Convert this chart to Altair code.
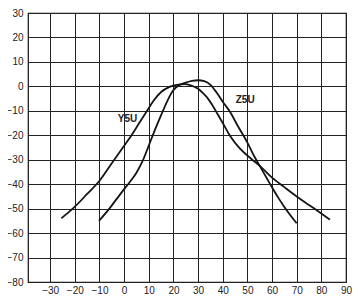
import altair as alt
import pandas as pd

# Curve Y5U (wide curve)
y5u_x = [-25.5, -22, -20, -15, -10, -5, 0, 3, 6, 9.3, 12, 15, 18, 20, 22, 24.5, 27, 30, 32, 34, 36, 38, 40, 43, 47, 51.5, 55, 60, 65, 70, 75, 80, 83.5]
y5u_y = [-54, -51, -49.2, -44, -38.6, -31.4, -24.3, -20, -15.2, -10, -5.8, -2.3, -0.4, 0.3, 0.7, 0.9, 0.4, -1, -2.8, -5, -8, -11.5, -15, -20.3, -25.5, -29.6, -32.5, -37.3, -41.2, -45, -48.5, -52, -54.5]

# Curve Z5U (narrower curve)
z5u_x = [-10.2, -6, -3, 0, 2, 5, 7.5, 10, 12.5, 15, 17.5, 20, 22.5, 25, 27.5, 30, 32.5, 35, 37.5, 40, 43, 46, 50, 53, 55, 58, 60, 62.5, 65, 67.5, 70]
z5u_y = [-55, -50, -46, -42, -39.5, -35.3, -30.5, -24.2, -17.8, -11.8, -6, -1.5, 0.6, 1.5, 2.2, 2.5, 2.1, 0.6, -2.5, -6.3, -10.5, -16, -23, -29, -32.5, -37.8, -41.3, -45.5, -49.3, -52.8, -56]

x_ticks = [-30, -20, -10, 0, 10, 20, 30, 40, 50, 60, 70, 80, 90]
y_ticks = [-80, -70, -60, -50, -40, -30, -20, -10, 0, 10, 20, 30]

label_names = ["Y5U", "Z5U"]
label_x = [1.4, 49.1]
label_y = [-13.2, -5.4]

rows = []
for i, (a, b) in enumerate(zip(y5u_x, y5u_y)):
    rows.append({"series": "Y5U", "x": a, "y": b, "i": i})
for i, (a, b) in enumerate(zip(z5u_x, z5u_y)):
    rows.append({"series": "Z5U", "x": a, "y": b, "i": i})
df = pd.DataFrame(rows)
lab = pd.DataFrame({"name": label_names, "x": label_x, "y": label_y})

FONT = "Liberation Sans"
xs = alt.Scale(domain=[-39, 90], nice=False, zero=False)
ys = alt.Scale(domain=[-80, 30], nice=False, zero=False)

xaxis = alt.Axis(values=x_ticks, title=None, grid=True, ticks=False, domain=False,
                 labelPadding=3, labelFontSize=10, labelFont=FONT, labelColor="#222",
                 gridColor="#222", gridWidth=1, gridOpacity=1, labelFlush=False, labelOverlap=False)
yaxis = alt.Axis(values=y_ticks, title=None, grid=True, ticks=False, domain=False,
                 labelPadding=5, labelFontSize=10, labelFont=FONT, labelColor="#222",
                 gridColor="#222", gridWidth=1, gridOpacity=1, labelFlush=False, labelOverlap=False)

lines = alt.Chart(df).mark_line(color="#151515", strokeWidth=1.8, interpolate="monotone").encode(
    x=alt.X("x:Q", scale=xs, axis=xaxis),
    y=alt.Y("y:Q", scale=ys, axis=yaxis),
    detail="series:N",
    order="i:Q",
)

texts = alt.Chart(lab).mark_text(font=FONT, fontSize=10, fontWeight="bold", color="#222").encode(
    x=alt.X("x:Q", scale=xs, axis=xaxis),
    y=alt.Y("y:Q", scale=ys, axis=yaxis),
    text="name:N",
)

chart = alt.layer(lines, texts).properties(
    width=318, height=269,
    autosize=alt.AutoSizeParams(type="none"),
    padding={"left": 20, "top": 5, "right": 6, "bottom": 17},
).configure_view(stroke="#111", strokeWidth=1.2)

chart.save("out.html", embed_options={"renderer": "svg", "actions": False})
